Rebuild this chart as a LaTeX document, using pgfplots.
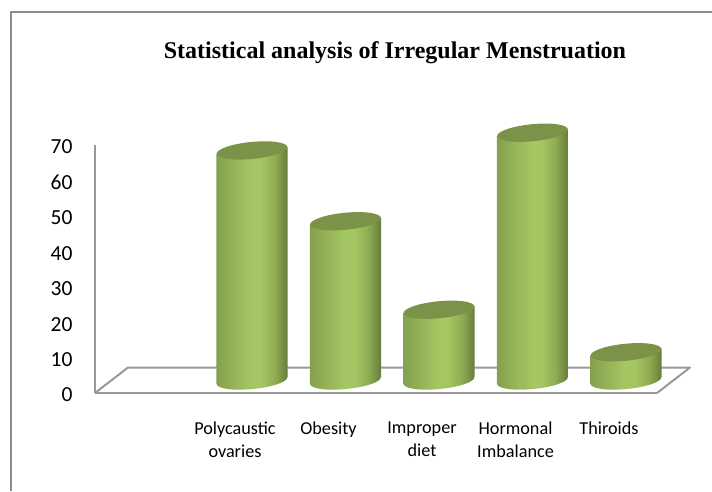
\documentclass[border=0pt]{standalone}
\usepackage{fontspec}
\setmainfont{Carlito}
\newfontfamily\titlefont{Liberation Serif}
\usepackage{pgfplots}
\usepackage{pgfplotstable}
\pgfplotsset{compat=1.18}
\usetikzlibrary{shapes.geometric}
\definecolor{cylL}{HTML}{84A04D}
\definecolor{cylA}{HTML}{96B558}
\definecolor{cylM}{HTML}{A5C763}
\definecolor{cylB}{HTML}{8FAC52}
\definecolor{cylR}{HTML}{667D3C}
\definecolor{cylTop}{HTML}{7A9348}
\definecolor{frameGray}{HTML}{8C8C8C}
\definecolor{axisGray}{HTML}{999999}
\pgfdeclarehorizontalshading{cyl}{100bp}{color(0bp)=(cylL);color(25bp)=(cylL);color(38bp)=(cylA);color(50bp)=(cylM);color(56bp)=(cylM);color(66bp)=(cylB);color(75bp)=(cylR);color(100bp)=(cylR)}
\pgfplotstableread{
x v b
0 65 0
1 45 0
2 20 0
3 70 0
4 8 0
}\cyldata
\pgfplotsset{cylbody/.style={draw=none,shading=cyl,mark=none}}
\begin{document}
\begin{tikzpicture}
\useasboundingbox (0pt,0pt) rectangle (712pt,-491pt);
% outer frame
\draw[frameGray,line width=2pt] (11pt,-491pt) -- (11pt,-12pt) -- (712pt,-12pt);
% title
\node[font=\titlefont\bfseries\fontsize{24}{28}\selectfont,anchor=center] at (395pt,-52.5pt) {Statistical analysis of Irregular Menstruation};
% floor
\draw[axisGray,line width=2pt,line join=round] (95pt,-393pt) -- (128pt,-367.5pt) -- (690pt,-367.5pt) -- (657pt,-393pt);
% front plane: axes and labels
\begin{axis}[
  at={(95pt,-393pt)},anchor=south west,
  scale only axis,width=562pt,height=248pt,
  xmin=-1.497,xmax=4.513,ymin=0,ymax=70,
  axis x line=bottom,axis y line=left,
  axis line style={axisGray,line width=2pt,-},
  major tick length=0pt,
  xtick={0,1,2,3,4},
  xticklabels={Polycaustic\\ovaries,Obesity,Improper\\diet,Hormonal\\Imbalance,Thiroids},
  x tick label style={font=\fontsize{18.2}{22.5}\selectfont,align=center,anchor=north,yshift=-25.5pt},
  ytick={0,10,...,70},
  /pgf/number format/assume math mode=true,
  y tick label style={font=\fontsize{21.5}{24}\selectfont,anchor=east,xshift=-19pt,yshift=-2pt},
]
\end{axis}
% back plane: cylinders
\begin{axis}[
  at={(0pt,-491pt)},anchor=south west,
  scale only axis,width=712pt,height=491pt,
  xmin=-2.695,xmax=4.92,ymin=-31.2,ymax=107.49,
  hide axis,clip=false,
]
\addplot[only marks,mark=none,point meta=explicit symbolic,nodes near coords={},
  every node near coord/.style={ellipse,shading=cyl,rotate=5.6,inner sep=0pt,anchor=center,minimum width=71pt,minimum height=17pt,draw=none}]
  table[x=x,y=b,meta=x] {\cyldata};
\addplot[cylbody] coordinates {(-0.38,-0.99)(-0.38,64.01)(0.38,65.99)(0.38,0.99)} -- cycle;
\addplot[cylbody] coordinates {(0.62,-0.99)(0.62,44.01)(1.38,45.99)(1.38,0.99)} -- cycle;
\addplot[cylbody] coordinates {(1.62,-0.99)(1.62,19.01)(2.38,20.99)(2.38,0.99)} -- cycle;
\addplot[cylbody] coordinates {(2.62,-0.99)(2.62,69.01)(3.38,70.99)(3.38,0.99)} -- cycle;
\addplot[cylbody] coordinates {(3.62,-0.99)(3.62,7.01)(4.38,8.99)(4.38,0.99)} -- cycle;
\addplot[only marks,mark=none,point meta=explicit symbolic,nodes near coords={},
  every node near coord/.style={ellipse,fill=cylTop,rotate=5.6,inner sep=0pt,anchor=center,minimum width=71pt,minimum height=17pt,draw=none}]
  table[x=x,y=v,meta=x] {\cyldata};
\end{axis}
\end{tikzpicture}
\end{document}
